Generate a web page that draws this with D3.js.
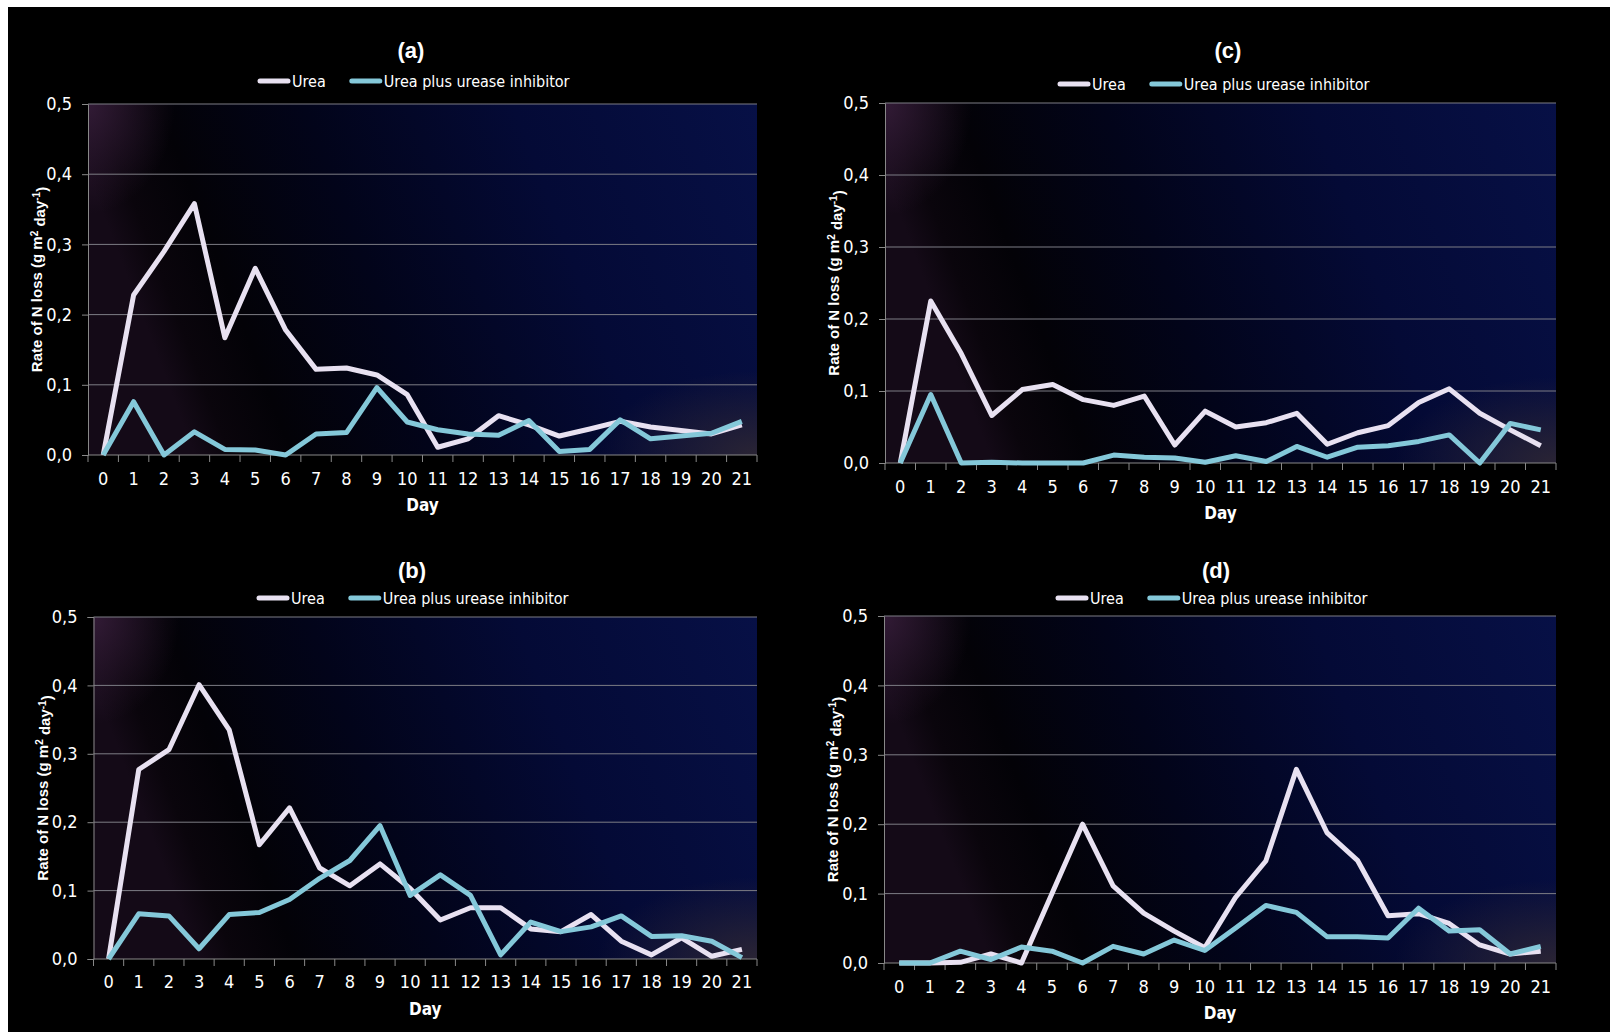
<!DOCTYPE html>
<html>
<head>
<meta charset="utf-8">
<script src="https://cdn.jsdelivr.net/npm/d3@7"></script>
<style>
  html, body { margin: 0; padding: 0; background: #fff; }
  svg { display: block; }
</style>
</head>
<body>
<div id="chart"></div>
<script>
// Categories and ticks
const days = [0, 1, 2, 3, 4, 5, 6, 7, 8, 9, 10, 11, 12, 13, 14, 15, 16, 17, 18, 19, 20, 21];
const yTicks = [0, 0.1, 0.2, 0.3, 0.4, 0.5];
const seriesNames = ['Urea', 'Urea plus urease inhibitor'];

// Panel (a)
const ureaA = [0, 0.228, 0.290, 0.358, 0.167, 0.266, 0.178, 0.122, 0.124, 0.114, 0.086, 0.011,
               0.023, 0.056, 0.043, 0.027, 0.037, 0.048, 0.040, 0.035, 0.030, 0.043];
const inhibA = [0, 0.076, 0.000, 0.033, 0.008, 0.007, 0.000, 0.030, 0.032, 0.096, 0.047, 0.036,
                0.030, 0.028, 0.049, 0.005, 0.008, 0.050, 0.023, 0.027, 0.031, 0.048];
// Panel (b)
const ureaB = [0, 0.277, 0.306, 0.401, 0.335, 0.167, 0.221, 0.133, 0.107, 0.139, 0.103, 0.057,
               0.075, 0.075, 0.044, 0.040, 0.065, 0.026, 0.006, 0.031, 0.004, 0.014];
const inhibB = [0, 0.066, 0.063, 0.015, 0.065, 0.068, 0.087, 0.118, 0.144, 0.195, 0.093, 0.123,
                0.093, 0.006, 0.054, 0.040, 0.047, 0.063, 0.033, 0.034, 0.026, 0.002];
// Panel (c)
const ureaC = [0, 0.225, 0.152, 0.066, 0.102, 0.109, 0.088, 0.080, 0.093, 0.025, 0.072, 0.050,
               0.056, 0.069, 0.026, 0.042, 0.052, 0.084, 0.103, 0.069, 0.046, 0.024];
const inhibC = [0, 0.095, 0.000, 0.001, 0.000, 0.000, 0.000, 0.011, 0.008, 0.007, 0.001, 0.010,
                0.002, 0.023, 0.008, 0.022, 0.024, 0.030, 0.039, 0.000, 0.055, 0.046];
// Panel (d)
const ureaD = [0, 0, 0.001, 0.013, 0.000, 0.100, 0.200, 0.111, 0.072, 0.046, 0.022, 0.094,
               0.147, 0.279, 0.188, 0.148, 0.068, 0.071, 0.057, 0.026, 0.013, 0.017];
const inhibD = [0, 0, 0.017, 0.005, 0.023, 0.017, 0.000, 0.024, 0.013, 0.033, 0.018, 0.050,
                0.083, 0.073, 0.038, 0.038, 0.036, 0.079, 0.046, 0.048, 0.013, 0.024];

const W = 1610, H = 1032;
const NARROW = "'Liberation Sans Narrow', 'Arial Narrow', 'DejaVu Sans Condensed', sans-serif";
const BOLD = "'Liberation Sans', Arial, sans-serif";
const colors = ['#e8e1f1', '#84c8d9'];

const panels = [
  { title: '(a)', series: [ureaA, inhibA],
    box: { left: 88, right: 757, top: 104, bottom: 455 }, titleX: 411, titleY: 50,
    legendX: 258, legendY: 81, tickY: 479, dayY: 505 },
  { title: '(b)', series: [ureaB, inhibB],
    box: { left: 93.5, right: 757, top: 617, bottom: 959 }, titleX: 412, titleY: 570,
    legendX: 257, legendY: 598, tickY: 982, dayY: 1009 },
  { title: '(c)', series: [ureaC, inhibC],
    box: { left: 885, right: 1556, top: 103, bottom: 463 }, titleX: 1228, titleY: 50,
    legendX: 1058, legendY: 84, tickY: 487, dayY: 513 },
  { title: '(d)', series: [ureaD, inhibD],
    box: { left: 884, right: 1556, top: 616, bottom: 963 }, titleX: 1216, titleY: 570,
    legendX: 1056, legendY: 598, tickY: 987, dayY: 1013 }
];

const svg = d3.select('#chart').append('svg')
  .attr('width', W)
  .attr('height', H);

// white page with the black chart sheet inset at top/left
svg.append('rect').attr('width', W).attr('height', H).attr('fill', '#fff');
svg.append('rect').attr('x', 8).attr('y', 7).attr('width', W - 8).attr('height', H - 7).attr('fill', '#000');

// plot area gradients
const defs = svg.append('defs');
const base = defs.append('linearGradient').attr('id', 'bgBase')
  .attr('x1', 0).attr('y1', 0.2).attr('x2', 1).attr('y2', 0);
[[0, '#140a17'], [0.05, '#0a050c'], [0.14, '#030207'], [0.35, '#02041a'], [0.65, '#040a36'], [1, '#071046']]
  .forEach(s => base.append('stop').attr('offset', s[0]).attr('stop-color', s[1]));

const tl = defs.append('radialGradient').attr('id', 'bgTL')
  .attr('cx', 0).attr('cy', 0).attr('r', 0.13)
  .attr('gradientTransform', 'scale(1,2.4)');
tl.append('stop').attr('offset', 0).attr('stop-color', '#361d3a').attr('stop-opacity', 0.9);
tl.append('stop').attr('offset', 1).attr('stop-color', '#361d3a').attr('stop-opacity', 0);

const br = defs.append('radialGradient').attr('id', 'bgBR')
  .attr('cx', 1).attr('cy', 1).attr('r', 0.24);
br.append('stop').attr('offset', 0).attr('stop-color', '#2a2434').attr('stop-opacity', 1);
br.append('stop').attr('offset', 1).attr('stop-color', '#2a2434').attr('stop-opacity', 0);

const commaFmt = v => d3.format('.1f')(v).replace('.', ',');

panels.forEach(p => {
  const b = p.box;
  const g = svg.append('g');

  const x = d3.scaleBand().domain(days).range([b.left, b.right]).padding(0);
  const y = d3.scaleLinear().domain([0, 0.5]).range([b.bottom, b.top]);

  // background layers
  ['bgBase', 'bgTL', 'bgBR'].forEach(id => {
    g.append('rect')
      .attr('x', b.left).attr('y', b.top)
      .attr('width', b.right - b.left).attr('height', b.bottom - b.top)
      .attr('fill', `url(#${id})`);
  });

  // gridlines
  g.selectAll('.grid')
    .data(yTicks.filter(t => t > 0))
    .enter().append('line')
    .attr('x1', b.left).attr('x2', b.right)
    .attr('y1', d => y(d)).attr('y2', d => y(d))
    .attr('stroke', '#7d7d85').attr('stroke-width', 1);

  // y axis
  const yAxis = g.append('g')
    .attr('transform', `translate(${b.left},0)`)
    .call(d3.axisLeft(y).tickValues(yTicks).tickFormat(commaFmt).tickSize(6).tickPadding(10));
  yAxis.select('.domain').attr('stroke', '#888');
  yAxis.selectAll('.tick line').attr('stroke', '#888');
  yAxis.selectAll('text')
    .attr('fill', '#fff')
    .style('font-family', NARROW)
    .style('font-size', '18px');

  // x axis: labels centered in bands, ticks on band edges
  const xAxis = g.append('g')
    .attr('transform', `translate(0,${b.bottom})`)
    .call(d3.axisBottom(x).tickSize(0).tickPadding(0));
  xAxis.select('.domain').remove();
  xAxis.selectAll('text')
    .attr('y', p.tickY - b.bottom)
    .attr('dy', '0.35em')
    .attr('fill', '#fff')
    .style('font-family', NARROW)
    .style('font-size', '18px');

  g.append('line')
    .attr('x1', b.left).attr('x2', b.right)
    .attr('y1', b.bottom).attr('y2', b.bottom)
    .attr('stroke', '#888');
  g.selectAll('.xtick')
    .data(days.concat(['end']))
    .enter().append('line')
    .attr('x1', d => d === 'end' ? b.right : x(d))
    .attr('x2', d => d === 'end' ? b.right : x(d))
    .attr('y1', b.bottom).attr('y2', b.bottom + 7)
    .attr('stroke', '#888');

  // lines
  const line = d3.line()
    .x((d, i) => x(days[i]) + x.bandwidth() / 2)
    .y(d => y(d));
  p.series.forEach((s, i) => {
    g.append('path')
      .datum(s)
      .attr('d', line)
      .attr('fill', 'none')
      .attr('stroke', colors[i])
      .attr('stroke-width', 5)
      .attr('stroke-linejoin', 'round');
  });

  // title
  g.append('text')
    .attr('x', p.titleX).attr('y', p.titleY)
    .attr('text-anchor', 'middle').attr('dy', '0.35em')
    .attr('fill', '#fff')
    .style('font-family', BOLD).style('font-weight', 'bold').style('font-size', '22px')
    .text(p.title);

  // legend
  let lx = p.legendX;
  seriesNames.forEach((name, i) => {
    g.append('line')
      .attr('x1', lx + 2).attr('x2', lx + 30)
      .attr('y1', p.legendY).attr('y2', p.legendY)
      .attr('stroke', colors[i]).attr('stroke-width', 5).attr('stroke-linecap', 'round');
    const t = g.append('text')
      .attr('x', lx + 34).attr('y', p.legendY).attr('dy', '0.35em')
      .attr('fill', '#fff')
      .style('font-family', NARROW).style('font-size', '16px')
      .text(name);
    lx += 34 + t.node().getComputedTextLength() + 24;
  });

  // axis titles
  g.append('text')
    .attr('x', (b.left + b.right) / 2).attr('y', p.dayY).attr('dy', '0.35em')
    .attr('text-anchor', 'middle').attr('fill', '#fff')
    .style('font-family', NARROW).style('font-weight', 'bold').style('font-size', '17px')
    .text('Day');

  const yt = g.append('text')
    .attr('transform', `translate(${b.left - 51},${(b.top + b.bottom) / 2}) rotate(-90)`)
    .attr('text-anchor', 'middle').attr('dy', '0.35em')
    .attr('fill', '#fff')
    .style('font-family', BOLD).style('font-weight', 'bold').style('font-size', '15px');
  yt.append('tspan').text('Rate of N loss (g m');
  yt.append('tspan').attr('dy', '-0.45em').style('font-size', '10px').text('2');
  yt.append('tspan').attr('dy', '0.45em').text(' day');
  yt.append('tspan').attr('dy', '-0.45em').style('font-size', '10px').text('-1');
  yt.append('tspan').attr('dy', '0.45em').text(')');
});
</script>
</body>
</html>
